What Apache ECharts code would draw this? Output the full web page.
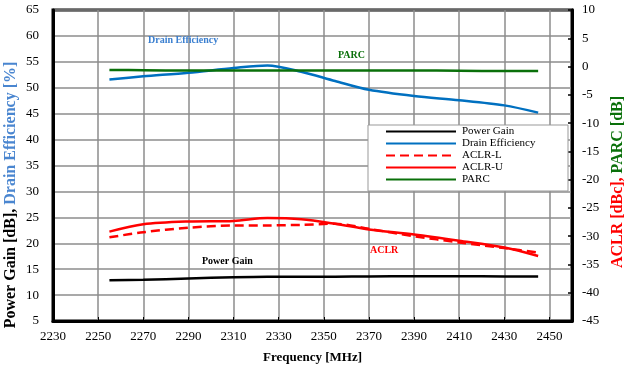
<!DOCTYPE html>
<html>
<head>
<meta charset="utf-8">
<script src="https://cdn.jsdelivr.net/npm/echarts@6/dist/echarts.min.js"></script>
<style>
  html, body { margin: 0; padding: 0; background: #fff; }
  #chart { width: 626px; height: 369px; }
</style>
</head>
<body>
<div id="chart"></div>
<script>
// frequency points (MHz)
var freq = [2255, 2270, 2290, 2310, 2325, 2340, 2355, 2370, 2390, 2410, 2430, 2445];
// left axis
var powerGain = [12.85, 12.95, 13.2, 13.45, 13.55, 13.55, 13.55, 13.6, 13.65, 13.65, 13.6, 13.6];
var drainEff = [51.6, 52.2, 52.9, 53.8, 54.3, 53.1, 51.3, 49.6, 48.4, 47.6, 46.6, 45.2];
// right axis
var aclrL = [-30.2, -29.3, -28.5, -28.1, -28.1, -28.0, -27.8, -28.7, -30.0, -31.1, -32.1, -32.9];
var aclrU = [-29.2, -27.9, -27.4, -27.3, -26.8, -27.0, -27.8, -28.8, -29.7, -30.8, -32.0, -33.5];
var parc = [-0.6, -0.65, -0.7, -0.7, -0.7, -0.7, -0.7, -0.7, -0.7, -0.75, -0.8, -0.8];

function pairs(ys) {
    return freq.map(function (f, i) { return [f, ys[i]]; });
}

var serif = '"Liberation Serif", "Times New Roman", serif';
var gridColor = '#8c8c8c';
var blue = '#0070c0', green = '#0a700a', red = '#ff0000';

function titleStyle(color) {
    return { fontFamily: serif, fontSize: 16, fontWeight: 'bold', fill: color };
}

var myChart = echarts.init(document.getElementById('chart'));
myChart.setOption({
    backgroundColor: '#fff',
    animation: false,
    textStyle: { fontFamily: serif },
    grid: {
        left: 53, right: 54, top: 10, bottom: 48,
        outerBoundsMode: 'none', containLabel: false,
        show: true, borderColor: '#000', borderWidth: 3
    },
    legend: {
        orient: 'vertical',
        left: 385, top: 126,
        itemWidth: 70, itemHeight: 12, itemGap: 1,
        padding: 0,
        z: 10,
        itemStyle: { opacity: 0, borderWidth: 0 },
        textStyle: { fontFamily: serif, fontSize: 11, color: '#000', padding: [0, 0, 0, 1] },
        data: ['Power Gain', 'Drain Efficiency', 'ACLR-L', 'ACLR-U', 'PARC']
    },
    graphic: [
        { type: 'rect', z: 5, shape: { x: 368, y: 125, width: 200, height: 66 },
          style: { fill: '#fff', stroke: '#999', lineWidth: 1 } },
        { type: 'text', z: 6, left: 148, top: 35,
          style: { text: 'Drain Efficiency', fill: '#3a7fd0', font: 'bold 10px ' + serif } },
        { type: 'text', z: 6, left: 338, top: 50,
          style: { text: 'PARC', fill: green, font: 'bold 10px ' + serif } },
        { type: 'text', z: 6, left: 202, top: 256,
          style: { text: 'Power Gain', fill: '#000', font: 'bold 10px ' + serif } },
        { type: 'text', z: 6, left: 370, top: 245,
          style: { text: 'ACLR', fill: red, font: 'bold 10px ' + serif } },
        // y-axis titles
        { type: 'text', z: 6, x: 11, y: 195, rotation: Math.PI / 2,
          style: {
              text: '{a|Power Gain [dB], }{b|Drain Efficiency [%]}',
              align: 'center', verticalAlign: 'middle',
              rich: { a: titleStyle('#000'), b: titleStyle('#4a86d0') }
          } },
        { type: 'text', z: 6, x: 618, y: 182, rotation: Math.PI / 2,
          style: {
              text: '{a|ACLR [dBc], }{b|PARC [dB]}',
              align: 'center', verticalAlign: 'middle',
              rich: { a: titleStyle(red), b: titleStyle(green) }
          } }
    ],
    xAxis: {
        type: 'value',
        min: 2230, max: 2460, interval: 20,
        name: 'Frequency [MHz]',
        nameLocation: 'middle', nameGap: 30,
        nameTextStyle: { fontFamily: serif, fontSize: 13, fontWeight: 'bold', color: '#000' },
        axisLine: { onZero: false, lineStyle: { color: '#000', width: 3 } },
        axisTick: { inside: true, length: 4, lineStyle: { color: '#000', width: 1 } },
        axisLabel: { fontFamily: serif, fontSize: 13, color: '#000', margin: 9, showMaxLabel: false,
                     formatter: function (v) { return String(v); } },
        splitLine: { show: true, lineStyle: { color: gridColor, width: 1.5 } }
    },
    yAxis: [{
        type: 'value',
        min: 5, max: 65, interval: 5,
        axisLine: { show: true, onZero: false, lineStyle: { color: '#000', width: 3 } },
        axisTick: { show: false },
        axisLabel: { fontFamily: serif, fontSize: 13, color: '#000', margin: 14 },
        splitLine: { show: true, lineStyle: { color: gridColor, width: 1.5 } }
    }, {
        type: 'value',
        min: -45, max: 10, interval: 5,
        position: 'right',
        axisLine: { show: true, onZero: false, lineStyle: { color: '#000', width: 3 } },
        axisTick: { show: true, inside: true, length: 4, lineStyle: { color: '#000', width: 1.5 } },
        axisLabel: { fontFamily: serif, fontSize: 13, color: '#000', margin: 10 },
        splitLine: { show: false }
    }],
    series: [{
        name: 'Power Gain', type: 'line', yAxisIndex: 0, smooth: 0.3,
        symbol: 'none', data: pairs(powerGain),
        lineStyle: { color: '#000', width: 2.5 }, itemStyle: { color: '#000' }
    }, {
        name: 'Drain Efficiency', type: 'line', yAxisIndex: 0, smooth: 0.3,
        symbol: 'none', data: pairs(drainEff),
        lineStyle: { color: blue, width: 2.5 }, itemStyle: { color: blue }
    }, {
        name: 'ACLR-L', type: 'line', yAxisIndex: 1, smooth: 0.3,
        symbol: 'none', data: pairs(aclrL),
        lineStyle: { color: red, width: 2.5, type: [9, 5] }, itemStyle: { color: red }
    }, {
        name: 'ACLR-U', type: 'line', yAxisIndex: 1, smooth: 0.3,
        symbol: 'none', data: pairs(aclrU),
        lineStyle: { color: red, width: 2.5 }, itemStyle: { color: red }
    }, {
        name: 'PARC', type: 'line', yAxisIndex: 1, smooth: 0.3,
        symbol: 'none', data: pairs(parc),
        lineStyle: { color: green, width: 2.5 }, itemStyle: { color: green }
    }]
});
</script>
</body>
</html>
